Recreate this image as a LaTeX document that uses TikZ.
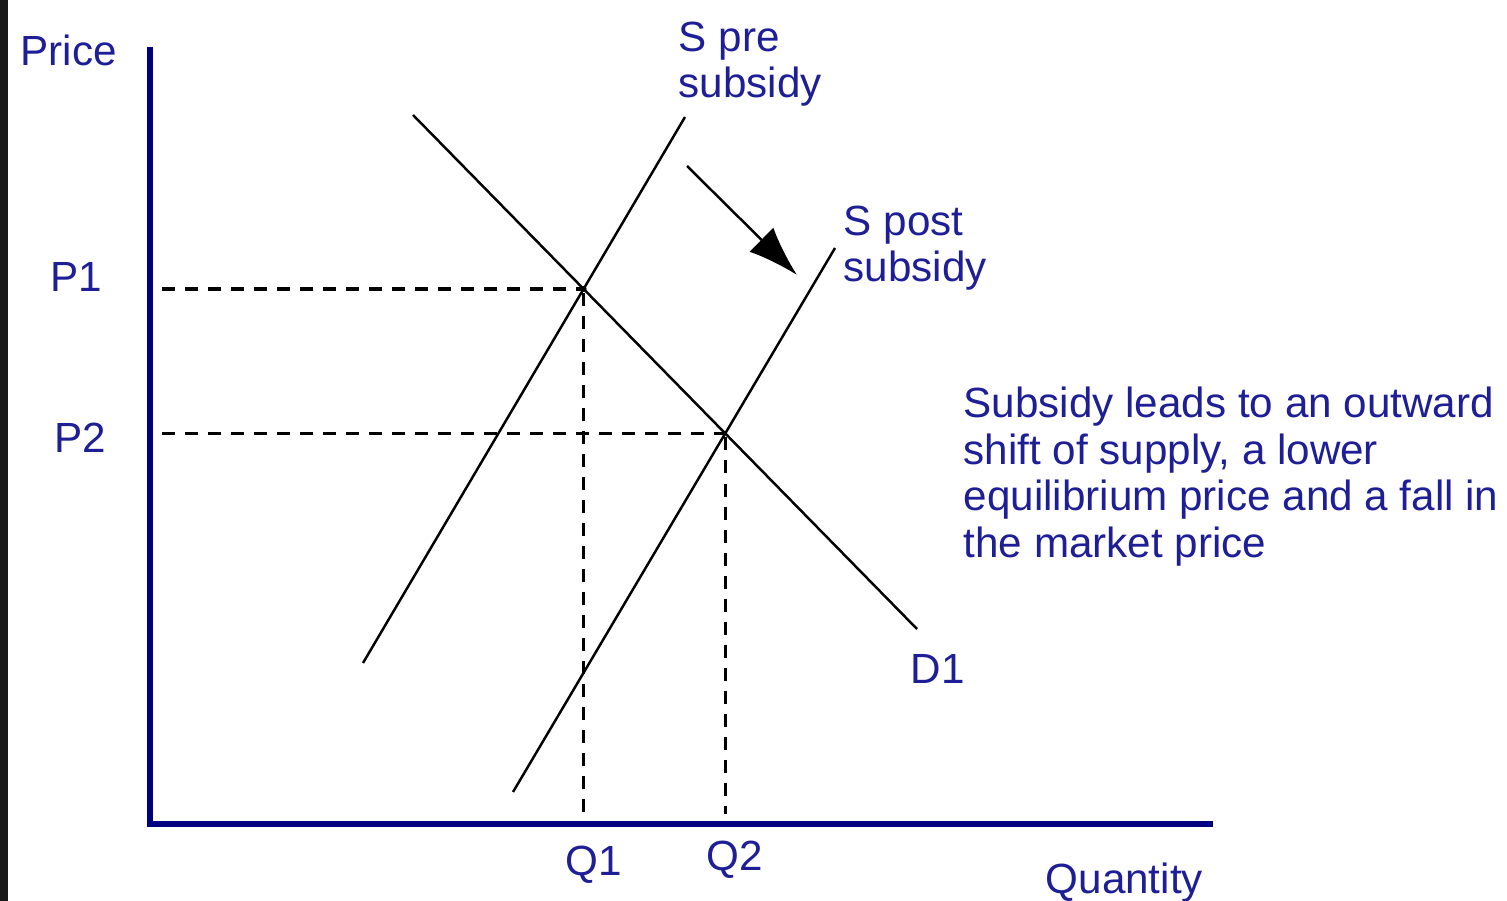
\documentclass[tikz,border=0pt]{standalone}
\usepackage{fontspec}
\setmainfont{Liberation Sans}
\usetikzlibrary{arrows.meta}
\definecolor{axisblue}{RGB}{0,0,128}
\definecolor{labelblue}{RGB}{30,30,150}

\begin{document}
\begin{tikzpicture}[x=0.01cm,y=-0.01cm,>={Latex[length=0.5cm,width=0.34cm]},
  lbl/.style={text=labelblue,inner sep=0pt,anchor=base west,font=\fontsize{12}{13.3}\selectfont},
  guide/.style={line width=0.95pt,dash pattern=on 0.13cm off 0.1cm},
  curve/.style={line width=0.7pt}]
  \useasboundingbox (0,0) rectangle (1507,901);
  \fill[black!90] (0,0) rectangle (8,901);
  % axes
  \coordinate (o) at (150,824);
  \coordinate (ytop) at (150,47);
  \coordinate (xend) at (1213,824);
  \draw[axisblue,line width=1.8pt] (ytop) -- (o) -- (xend);
  % supply and demand
  \coordinate (spre0) at (363,663);  \coordinate (spre1) at (685,117);
  \coordinate (spost0) at (513,792); \coordinate (spost1) at (835,248);
  \coordinate (d0) at (413,115);     \coordinate (d1) at (917,629);
  \draw[curve] (spre0) -- (spre1);
  \draw[curve] (spost0) -- (spost1);
  \draw[curve] (d0) -- (d1);
  \coordinate (e1) at (intersection of spre0--spre1 and d0--d1);
  \coordinate (e2) at (intersection of spost0--spost1 and d0--d1);
  \fill (e1) circle (3);
  % equilibrium guides
  \foreach \e in {e1,e2}
  {
    \draw[guide,shorten <=0.12cm] (ytop |- \e) -- (\e);
    \draw[guide,shorten <=0.04cm,shorten >=0.1cm] (\e) -- (\e |- o);
  }
  % shift
  \coordinate (a0) at (687,166); \coordinate (a1) at (797,275);
  \draw[->,line width=0.7pt] (a0) -- (a1);
  % labels
  \node[lbl] (price) at (20,66) {Price};
  \node[lbl] (quantity) at (1045,893) {Quantity};
  \node[lbl] (p1) at (50,292) {P1};
  \node[lbl] (p2) at (54,453) {P2};
  \node[lbl] (q1) at (565,875) {Q1};
  \node[lbl] (q2) at (706,870) {Q2};
  \node[lbl] (dlab) at (910,683) {D1};
  \node[lbl,align=left] (prelab) at (678,98) {S pre\\subsidy};
  \node[lbl,align=left] (postlab) at (843,282) {S post\\subsidy};
  \node[lbl,align=left,anchor=north west] (note) at (963,386)
    {Subsidy leads to an outward\\shift of supply, a lower\\equilibrium price and a fall in\\the market price};
\end{tikzpicture}
\end{document}
